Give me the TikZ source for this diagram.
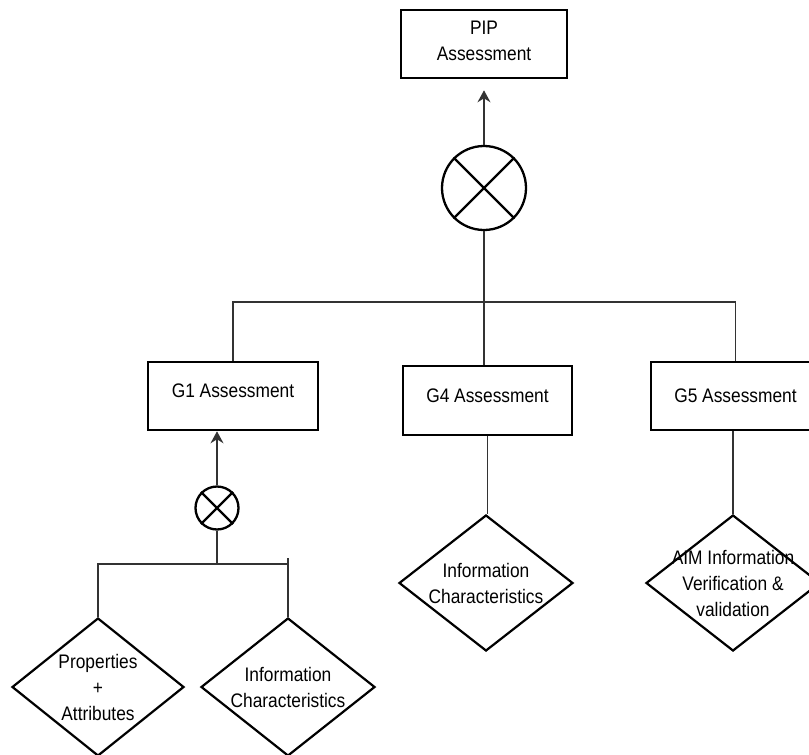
\documentclass[tikz,border=0pt]{standalone}
\usepackage{fontspec}
\setmainfont{Liberation Sans}[FakeStretch=0.885]
\usetikzlibrary{shapes.geometric,arrows.meta}
\begin{document}
\begin{tikzpicture}[x=1pt,y=-1pt,
  every node/.style={font=\fontsize{19.6}{26}\selectfont, align=center, text=black},
  box/.style={draw, rectangle, line width=2.6pt, minimum width=#1, minimum height=68pt, inner sep=0pt},
  choice/.style={draw, diamond, line width=2.2pt, minimum width=174pt, minimum height=138pt, inner sep=0pt},
  ring/.style={draw, circle, line width=2.3pt, minimum size=#1, inner sep=0pt},
  link/.style={line width=1.4pt, draw=black!80},
  up/.style={link, -{Stealth[length=12pt,width=13pt,inset=4pt]}}
]
\useasboundingbox (0,0) rectangle (809,755);

% top level
\node[box=166pt, text depth=6pt] (pip) at (484,44) {PIP\\Assessment};
\node[ring=84pt] (bigx) at (484,188) {};
\draw[line width=2.3pt] (bigx.north west) -- (bigx.south east)
                        (bigx.north east) -- (bigx.south west);

% assessment boxes
\node[box=170pt, text depth=11pt] (g1) at (233,396) {G1 Assessment};
\node[box=169pt, minimum height=69pt, text depth=10pt] (g4) at (487.5,400.5) {G4 Assessment};
\node[box=169pt] (g5) at (735.5,396) {G5 Assessment};

% G1 combination
\node[ring=43pt] (smallx) at (217,508) {};
\draw[line width=2.2pt] (smallx.north west) -- (smallx.south east)
                        (smallx.north east) -- (smallx.south west);

% leaf criteria
\node[choice, minimum width=172pt] (d1) at (98,687)
  [label={center:Properties\\+\\Attributes}] {};
\node[choice] (d2) at (288,687)
  [label={center:Information\\Characteristics}] {};
\node[choice, minimum height=136pt] (d3) at (486,583)
  [label={center:Information\\Characteristics}] {};
\node[choice, minimum height=136pt] (d4) at (733,583)
  [label={center:AIM Information\\Verification \&\\validation}] {};

% bus coordinates
\coordinate (bus) at (484,302);
\coordinate (bus2) at (217,564);

% connectors
\draw[up, shorten >=11pt] (bigx.north) -- (pip.south);
\draw[link] (bigx.south) -- (bigx.south |- g4.north);
\draw[link] (g1.north) |- (bus) -| (g5.north);

\draw[up] (smallx.north) -- (smallx.north |- g1.south);
\draw[link] (smallx.south) -- (bus2);
\draw[link] (d1.north) |- (bus2 -| d2.north);
\draw[link] (d2.north) -- ([yshift=6pt]bus2 -| d2.north);

\draw[link] (g4.south) -- (g4.south |- d3.north);
\draw[link] (d4.north |- g5.south) -- (d4.north);
\end{tikzpicture}
\end{document}
